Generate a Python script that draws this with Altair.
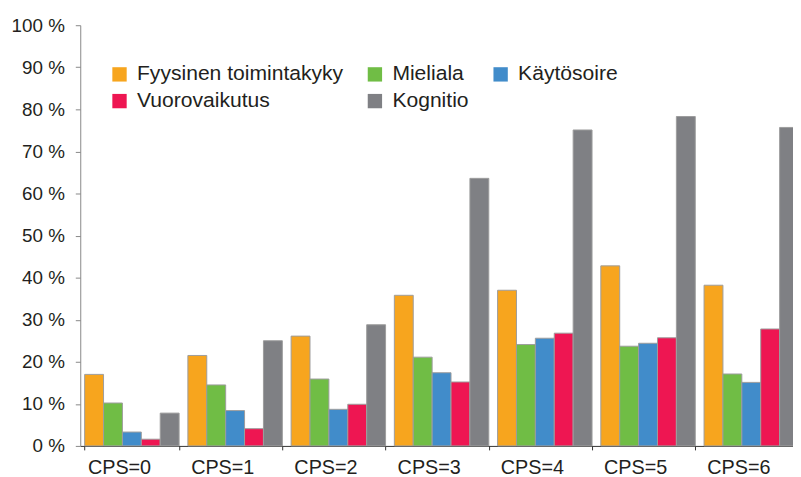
import altair as alt
import pandas as pd

categories = ["CPS=0", "CPS=1", "CPS=2", "CPS=3", "CPS=4", "CPS=5", "CPS=6"]
series = ["Fyysinen toimintakyky", "Mieliala", "Käytösoire", "Vuorovaikutus", "Kognitio"]
fyysinen = [17.0, 21.5, 26.1, 35.8, 37.0, 42.8, 38.2]
mieliala = [10.2, 14.5, 15.9, 21.1, 24.1, 23.7, 17.1]
kaytosoire = [3.3, 8.4, 8.7, 17.4, 25.6, 24.4, 15.1]
vuorovaikutus = [1.6, 4.1, 9.9, 15.2, 26.8, 25.7, 27.8]
kognitio = [7.8, 25.0, 28.8, 63.6, 75.1, 78.3, 75.7]
colors = ["#F7A51E", "#70BD45", "#418CCA", "#EE1652", "#7F8084"]
y_ticks = [0, 10, 20, 30, 40, 50, 60, 70, 80, 90, 100]

values = [fyysinen, mieliala, kaytosoire, vuorovaikutus, kognitio]
rows = []
for s, vals in zip(series, values):
    for c, v in zip(categories, vals):
        rows.append({"cat": c, "series": s, "value": v})
df = pd.DataFrame(rows)

FONT = "Liberation Sans"

chart = alt.Chart(df).mark_bar(stroke="#9d9d9d", strokeWidth=1).encode(
    x=alt.X("cat:N", sort=categories, title=None,
            scale=alt.Scale(range=[0, 730], paddingInner=0.085, paddingOuter=0.0425),
            axis=alt.Axis(labelAngle=0, tickBand="extent", tickSize=4, labelFontSize=20,
                          labelFont=FONT, labelColor="#231f20", domainColor="#333333",
                          tickColor="#333333", labelPadding=8, labelOffset=-13, grid=False)),
    xOffset=alt.XOffset("series:N", sort=series, scale=alt.Scale(paddingInner=0, paddingOuter=0)),
    y=alt.Y("value:Q", title=None,
            scale=alt.Scale(domain=[0, 100], nice=False),
            axis=alt.Axis(values=y_ticks, labelExpr="datum.value + ' %'", tickSize=5,
                          labelFontSize=19, labelFont=FONT, labelColor="#231f20",
                          domainColor="#888888", tickColor="#888888", labelPadding=11,
                          grid=False)),
    color=alt.Color("series:N", sort=series,
                    scale=alt.Scale(domain=series, range=colors),
                    legend=alt.Legend(title=None, orient="none", legendX=29, legendY=39,
                                      direction="horizontal",
                                      columns=3, columnPadding=21, rowPadding=5,
                                      symbolType="square", symbolSize=210,
                                      symbolStrokeWidth=0, labelFontSize=21.3, labelFont=FONT,
                                      labelColor="#231f20", labelOffset=7, labelLimit=400,
                                      padding=0,
                                      labelExpr="datum.label == 'Vuorovaikutus' ? '\u00a0Vuorovaikutus' : datum.label")),
).properties(
    width=720, height=425,
    autosize=alt.AutoSizeParams(type="none"),
    padding={"left": 73, "top": 15, "right": 0, "bottom": 29},
).configure_view(stroke=None)

chart.save("out.html", embed_options={"renderer": "svg", "actions": False})
